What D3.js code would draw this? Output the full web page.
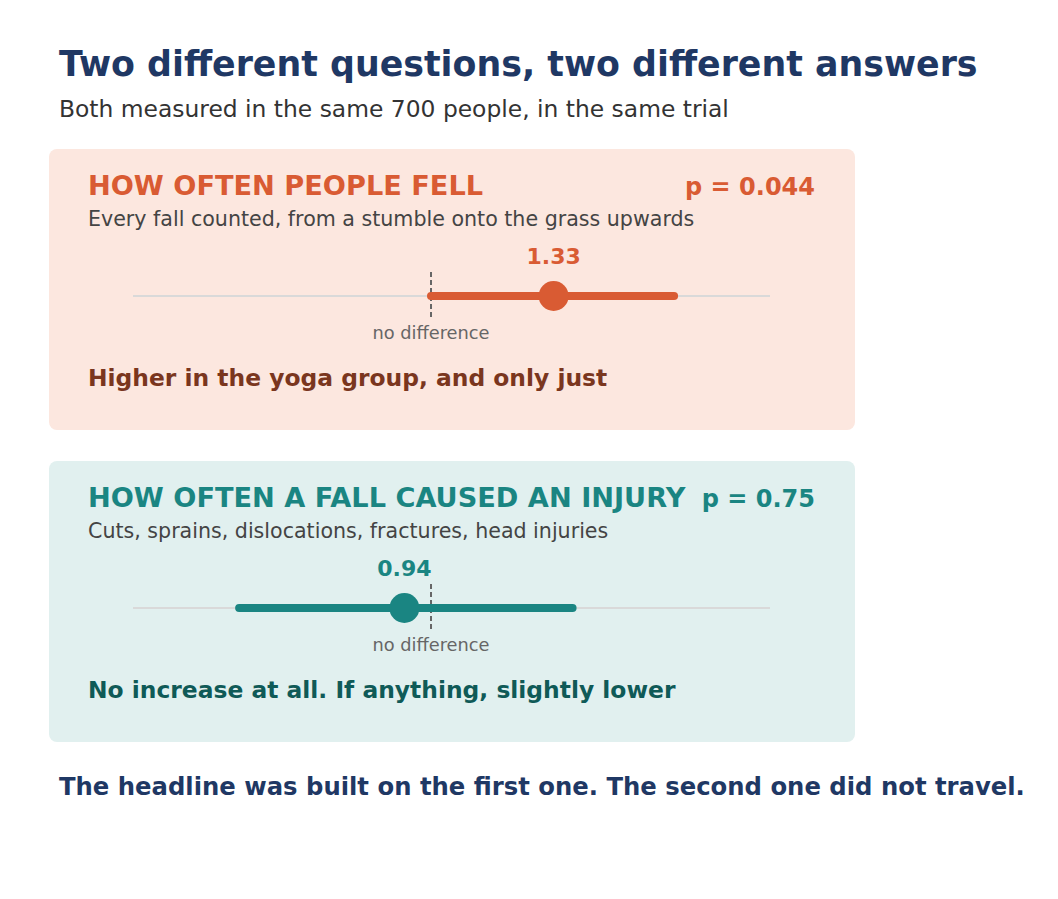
<!DOCTYPE html>
<html><head><meta charset="utf-8">
<script src="https://cdn.jsdelivr.net/npm/d3@7"></script>
<style>body{margin:0;background:#fff}svg{font-family:"DejaVu Sans",sans-serif}</style>
</head><body><div id="chart"></div>
<script>
var titles = ["HOW OFTEN PEOPLE FELL", "HOW OFTEN A FALL CAUSED AN INJURY"];
var pvalues = ["p = 0.044", "p = 0.75"];
var notes = ["Every fall counted, from a stumble onto the grass upwards", "Cuts, sprains, dislocations, fractures, head injuries"];
var estimates = [1.33, 0.94];
var lowers = [1.0, 0.64];
var uppers = [1.76, 1.39];
var verdicts = ["Higher in the yoga group, and only just", "No increase at all. If anything, slightly lower"];
var themes = [
  {bg: "#fce7df", main: "#d95b33", dark: "#7a361e"},
  {bg: "#e1f0ef", main: "#1a8582", dark: "#0f5a57"}
];

var svg = d3.select("#chart").append("svg").attr("width", 1058).attr("height", 899);

svg.append("text").attr("x", 59).attr("y", 76).attr("font-size", 34.8).attr("font-weight", "bold")
  .attr("fill", "#1f3864").text("Two different questions, two different answers");
svg.append("text").attr("x", 59).attr("y", 117).attr("font-size", 23.4).attr("fill", "#333")
  .text("Both measured in the same 700 people, in the same trial");

var x = d3.scaleLog().domain([0.5, 2.2]).range([133, 770]);

titles.forEach(function(t, i) {
  var g = svg.append("g").attr("transform", "translate(0," + (i * 312) + ")");
  var th = themes[i];
  g.append("rect").attr("x", 49).attr("y", 149).attr("width", 806).attr("height", 281)
    .attr("rx", 8).attr("fill", th.bg);
  g.append("text").attr("x", 88).attr("y", 195).attr("font-size", 27.2).attr("font-weight", "bold")
    .attr("fill", th.main).text(t);
  g.append("text").attr("x", 815).attr("y", 195).attr("text-anchor", "end").attr("font-size", 24)
    .attr("font-weight", "bold").attr("fill", th.main).text(pvalues[i]);
  g.append("text").attr("x", 88).attr("y", 226).attr("font-size", 20.6).attr("fill", "#444").text(notes[i]);

  var cy = 296;
  g.append("line").attr("x1", x.range()[0]).attr("x2", x.range()[1]).attr("y1", cy).attr("y2", cy)
    .attr("stroke", "#d9d9d9").attr("stroke-width", 2);
  g.append("line").attr("x1", x(1)).attr("x2", x(1)).attr("y1", cy - 24).attr("y2", cy + 23)
    .attr("stroke", "#666").attr("stroke-width", 2).attr("stroke-dasharray", "5,3");
  g.append("line").attr("x1", x(lowers[i])).attr("x2", x(uppers[i])).attr("y1", cy).attr("y2", cy)
    .attr("stroke", th.main).attr("stroke-width", 8).attr("stroke-linecap", "round");
  g.append("circle").attr("cx", x(estimates[i])).attr("cy", cy).attr("r", 15).attr("fill", th.main);
  g.append("text").attr("x", x(estimates[i])).attr("y", 264).attr("text-anchor", "middle")
    .attr("font-size", 22).attr("font-weight", "bold").attr("fill", th.main).text(estimates[i].toFixed(2));
  g.append("text").attr("x", x(1)).attr("y", 339).attr("text-anchor", "middle")
    .attr("font-size", 17.8).attr("fill", "#666").text("no difference");
  g.append("text").attr("x", 88).attr("y", 386).attr("font-size", 23.4).attr("font-weight", "bold")
    .attr("fill", th.dark).text(verdicts[i]);
});

svg.append("text").attr("x", 59).attr("y", 795).attr("font-size", 24.3).attr("font-weight", "bold")
  .attr("fill", "#1f3864").text("The headline was built on the first one. The second one did not travel.");
</script></body></html>
